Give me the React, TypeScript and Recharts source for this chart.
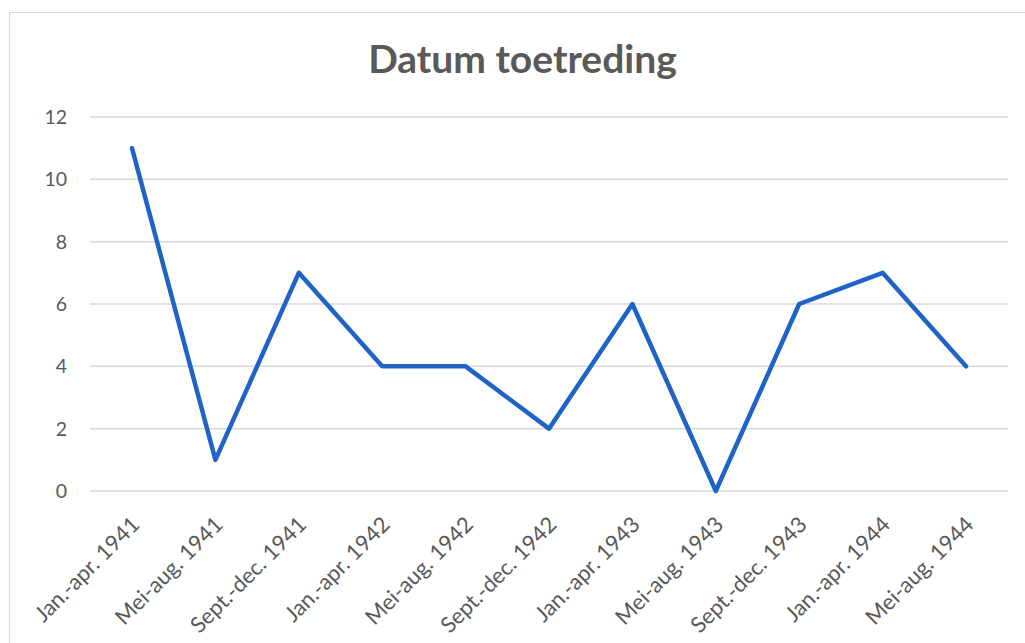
import React from "react"
import { LineChart, Line, XAxis, YAxis, CartesianGrid } from "recharts"

const periods = [
  "Jan.-apr. 1941", "Mei-aug. 1941", "Sept.-dec. 1941",
  "Jan.-apr. 1942", "Mei-aug. 1942", "Sept.-dec. 1942",
  "Jan.-apr. 1943", "Mei-aug. 1943", "Sept.-dec. 1943",
  "Jan.-apr. 1944", "Mei-aug. 1944",
]
const counts = [11, 1, 7, 4, 4, 2, 6, 0, 6, 7, 4]
const yTicks = [0, 2, 4, 6, 8, 10, 12]

const data = periods.map((name, i) => ({ name, count: counts[i] }))

const FONT = "Lato, 'Open Sans', sans-serif"

function RotatedTick(props: any) {
  const { x, y, payload } = props
  return (
    <g transform={`translate(${x + 9},${y + 33})`}>
      <text
        x={0}
        y={0}
        textAnchor="end"
        transform="rotate(-45)"
        fill="#595959"
        fontSize={22}
        fontFamily={FONT}
      >
        {payload.value}
      </text>
    </g>
  )
}

export default function App() {
  return (
    <div style={{ position: "fixed", left: 0, top: 0, width: 1025, height: 643, background: "#fff", overflow: "hidden" }}>
      <div
        style={{
          position: "absolute", left: 9, top: 12, width: 1030, height: 650,
          border: "1.5px solid #d9d9d9", boxSizing: "border-box",
        }}
      />
      <div
        style={{
          position: "absolute", left: 0, top: 35, width: 1045, textAlign: "center",
          fontFamily: FONT, fontWeight: 700, fontSize: 39, color: "#595959",
        }}
      >
        Datum toetreding
      </div>
      <div style={{ position: "absolute", left: 0, top: 0 }}>
        <LineChart width={1025} height={643} data={data} margin={{ top: 117, right: 17, bottom: 12, left: 30 }}>
          <CartesianGrid vertical={false} stroke="#d9d9d9" strokeWidth={1.5} />
          <XAxis
            dataKey="name"
            axisLine={false}
            tickLine={false}
            tickSize={0}
            interval={0}
            height={140}
            padding={{ left: 42, right: 42 }}
            tick={<RotatedTick />}
          />
          <YAxis
            domain={[0, 12]}
            ticks={yTicks}
            axisLine={false}
            tickLine={false}
            tickSize={0}
            tickMargin={23}
            width={60}
            tick={{ fontSize: 19.5, fill: "#595959", fontFamily: FONT }}
          />
          <Line
            dataKey="count"
            stroke="#1f63c6"
            strokeWidth={4.5}
            strokeLinejoin="round"
            strokeLinecap="round"
            dot={false}
            activeDot={false}
            isAnimationActive={false}
          />
        </LineChart>
      </div>
    </div>
  )
}
